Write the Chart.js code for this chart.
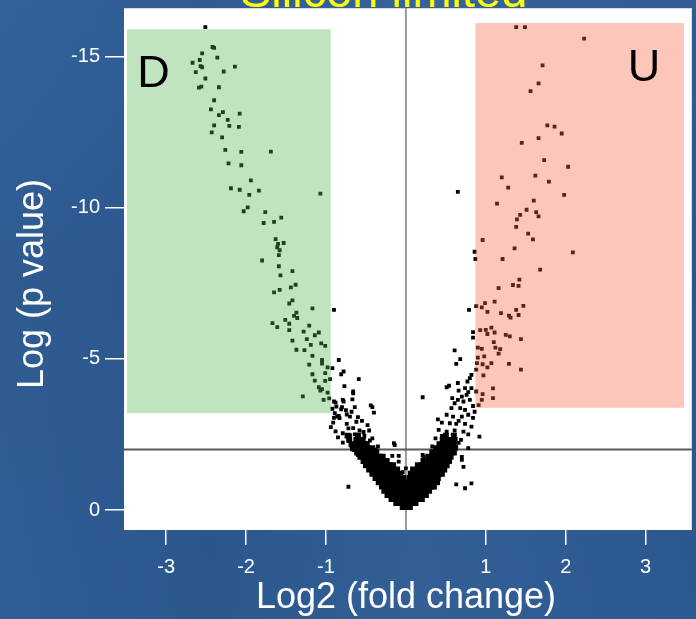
<!DOCTYPE html>
<html>
<head>
<meta charset="utf-8">
<script src="https://cdn.jsdelivr.net/npm/chart.js@4.4.1/dist/chart.umd.min.js"></script>
<style>
  html, body { margin: 0; padding: 0; }
  body {
    width: 696px; height: 619px; overflow: hidden;
    background:
      linear-gradient(90deg, rgba(255,255,255,0.02) 0%, rgba(0,0,0,0.03) 30%, rgba(255,255,255,0.03) 60%, rgba(0,0,0,0.02) 100%),
      linear-gradient(180deg, #2f5f9a 0%, #2b5890 45%, #2c5a93 100%);
  }
  #wrap { position: absolute; left: 0; top: 0; width: 696px; height: 619px; }
</style>
</head>
<body>
<div id="wrap"><canvas id="grafico" width="696" height="619"></canvas></div>
<script>
const titulo = 'Silicon limited';
const xTitulo = 'Log2 (fold change)';
const yTitulo = 'Log (p value)';
const xTicks = [-3, -2, -1, 1, 2, 3];
const yTicks = [-15, -10, -5, 0];
const limiteP = -2;
const limiteFC = 0;

// caixas: [x1, x2, y1, y2]
const caixaD = [-3.49, -0.94, -15.9, -3.2];
const caixaU = [0.87, 3.48, -16.1, -3.38];
const rotulos = ['D', 'U'];
const rotuloPos = [[-3.16, -14.39], [2.98, -14.6]];

const pontosD = [[-2.51,-15.97],[-2.42,-15.31],[-2.40,-15.28],[-2.55,-15.10],[-2.36,-14.96],[-2.58,-14.88],[-2.67,-14.79],[-2.57,-14.68],[-2.55,-14.64],[-2.14,-14.66],[-2.28,-14.50],[-2.63,-14.48],[-2.51,-14.27],[-2.59,-13.97],[-2.56,-14.00],[-2.34,-13.98],[-2.40,-13.55],[-2.44,-13.25],[-2.29,-13.16],[-2.34,-13.06],[-2.08,-13.11],[-2.23,-12.90],[-2.40,-12.72],[-2.21,-12.70],[-2.09,-12.67],[-2.43,-12.49],[-2.30,-12.32],[-2.26,-11.91],[-2.06,-11.84],[-1.69,-11.85],[-2.22,-11.46],[-2.06,-11.40],[-1.94,-10.90],[-2.19,-10.64],[-2.08,-10.59],[-1.84,-10.56],[-1.96,-10.42],[-1.07,-10.46],[-1.98,-10.01],[-2.03,-9.88],[-1.76,-9.85],[-1.56,-9.67],[-1.65,-9.53],[-1.78,-9.49],[-1.63,-8.96],[-1.60,-8.80],[-1.53,-8.83],[-1.61,-8.69],[-1.58,-8.59],[-1.59,-8.43],[-1.80,-8.25],[-1.59,-8.06],[-1.42,-7.90],[-1.57,-7.76],[-1.38,-7.45],[-1.44,-7.36],[-1.58,-7.28],[-1.65,-7.20],[-1.42,-6.93],[-1.46,-6.83],[-1.17,-6.67],[-0.90,-6.62],[-1.37,-6.53],[-1.40,-6.42],[-1.36,-6.35],[-1.51,-6.29],[-1.67,-6.18],[-1.46,-6.16],[-1.61,-6.05],[-1.21,-6.10],[-1.46,-5.95],[-1.28,-5.90],[-1.09,-5.87],[-1.14,-5.78],[-1.24,-5.65],[-1.42,-5.60],[-1.06,-5.51],[-1.19,-5.46],[-1.01,-5.43],[-1.37,-5.30],[-1.27,-5.29],[-1.17,-5.10],[-1.05,-4.96],[-0.84,-4.96],[-1.21,-4.81],[-1.05,-4.84],[-0.98,-4.72],[-0.92,-4.69],[-0.78,-4.58],[-0.81,-4.49],[-1.17,-4.49],[-1.01,-4.53],[-1.14,-4.28],[-1.01,-4.27],[-0.95,-4.33],[-0.77,-4.10],[-1.09,-4.06],[-1.05,-4.00],[-1.07,-3.95],[-0.98,-3.88],[-1.29,-3.76],[-1.03,-3.64],[-0.96,-3.69],[-0.90,-3.59],[-0.78,-3.59],[-0.87,-3.42],[-0.81,-3.33],[-0.89,-3.20],[-0.84,-3.11],[-0.74,-3.16]];

const bracoD = [[-0.59,-4.33],[-0.66,-3.92],[-0.67,-3.66],[-0.79,-3.64],[-0.64,-3.40],[-0.42,-3.40],[-0.40,-3.22],[-0.86,-3.09],[-0.83,-3.04],[-0.91,-2.89],[-0.70,-3.09],[-0.60,-3.07],[-0.74,-2.85],[-0.48,-2.81],[-0.94,-2.74],[-0.66,-2.71],[-0.58,-2.63],[-0.46,-2.63],[-0.79,-2.54],[-0.70,-2.48],[-0.52,-2.45],[-0.42,-2.37],[-0.79,-2.23],[-0.62,-2.26],[-0.50,-2.21],[-0.68,-2.10],[-0.56,-2.04],[-0.35,-2.10],[-0.14,-2.15],[-0.09,-1.79],[-0.46,-1.88],[-0.60,-1.82],[-0.40,-1.76],[-0.72,-0.77],[-0.15,-2.21],[-0.09,-1.60],[-0.17,-1.79],[-0.44,-3.46],[-0.66,-3.86],[-0.85,-2.40],[-0.88,-2.60],[-0.88,-3.55],[-0.75,-3.30],[-0.68,-3.25],[-0.55,-2.95],[-0.62,-2.92],[-0.72,-2.70],[-0.53,-2.58],[-0.64,-2.50],[-0.45,-2.30],[-0.58,-2.30],[-0.71,-2.30],[-0.38,-2.00],[-0.52,-1.95],[-0.65,-1.98],[-0.44,-2.02],[-0.80,-3.40],[-0.92,-3.35],[-0.90,-3.05]];

const pontosU = [[1.38,-15.97],[1.49,-15.97],[2.23,-15.59],[1.71,-14.70],[1.66,-14.11],[1.56,-13.85],[1.77,-12.72],[1.86,-12.68],[1.95,-12.45],[1.66,-12.30],[1.45,-12.14],[1.73,-11.57],[2.03,-11.35],[1.20,-11.00],[1.62,-11.06],[1.79,-10.86],[1.28,-10.66],[0.65,-10.52],[1.98,-10.42],[1.14,-10.13],[1.60,-10.23],[1.51,-9.93],[1.63,-9.85],[1.66,-9.71],[1.43,-9.76],[1.39,-9.61],[1.38,-9.36],[1.53,-9.14],[1.59,-8.95],[0.96,-8.93],[1.36,-8.65],[2.09,-8.52],[0.86,-8.54],[0.87,-8.30],[1.21,-8.30],[1.68,-7.95],[1.42,-7.62],[1.34,-7.44],[1.41,-7.41],[1.16,-7.34],[1.11,-6.89],[0.99,-6.84],[0.88,-6.74],[1.47,-6.75],[0.95,-6.70],[0.79,-6.62],[1.02,-6.55],[1.19,-6.51],[1.38,-6.62],[1.41,-6.45],[1.29,-6.43],[1.31,-6.36],[0.84,-5.88],[0.84,-5.70],[0.93,-5.95],[1.00,-5.96],[1.07,-6.03],[1.11,-5.87],[1.02,-5.82],[1.25,-5.79],[1.30,-5.74],[1.44,-5.65],[1.10,-5.55],[0.90,-5.37],[0.95,-5.33],[1.12,-5.37],[1.18,-5.32],[1.16,-5.17],[0.61,-5.28],[0.90,-5.04],[0.98,-5.08],[0.68,-4.99],[0.89,-4.86],[0.96,-4.82],[1.02,-4.72],[1.07,-4.86],[1.29,-4.83],[1.44,-4.64],[0.63,-4.83],[0.88,-4.64],[0.97,-4.45],[0.82,-4.47],[0.80,-4.36],[1.09,-4.02],[0.96,-3.83],[1.09,-3.70],[0.95,-3.64],[0.88,-3.92],[0.91,-3.47]];

const bracoU = [[0.21,-3.73],[0.40,-3.00],[0.51,-4.06],[0.54,-4.11],[0.65,-4.20],[0.74,-4.03],[0.77,-4.25],[0.82,-4.03],[0.76,-3.81],[0.70,-3.75],[0.65,-3.64],[0.61,-3.53],[0.72,-3.59],[0.80,-3.64],[0.57,-3.37],[0.68,-3.37],[0.74,-3.31],[0.84,-3.44],[0.51,-3.15],[0.59,-3.09],[0.70,-3.09],[0.78,-3.15],[0.45,-2.89],[0.55,-2.87],[0.63,-2.85],[0.74,-2.85],[0.41,-2.65],[0.51,-2.59],[0.61,-2.63],[0.72,-2.59],[0.82,-2.76],[0.37,-2.37],[0.49,-2.32],[0.59,-2.34],[0.69,-2.32],[0.33,-2.10],[0.41,-2.04],[0.53,-2.10],[0.63,-2.08],[0.21,-1.82],[0.37,-1.85],[0.49,-1.82],[0.70,-1.76],[0.92,-2.43],[0.63,-0.85],[0.74,-0.72],[0.82,-0.88],[0.70,-1.66],[0.72,-1.43],[0.22,-1.76],[0.66,-3.95],[0.58,-3.70],[0.78,-3.90],[0.86,-3.25],[0.66,-2.95],[0.78,-2.50],[0.56,-2.20],[0.45,-2.45],[0.66,-2.22],[0.78,-2.05],[0.84,-3.05],[0.00,-1.38],[0.11,-1.19],[-0.04,-1.25]];

// massa densa junto ao zero, lida por linhas
const nucleoY = [-0.10, -0.23, -0.36, -0.50, -0.64, -0.78, -0.92, -1.06, -1.20, -1.34, -1.48, -1.62, -1.76, -1.90, -2.04, -2.18, -2.32, -2.46];
const nucleoX = [
  [-0.04, 0.01, 0.05],
  [-0.12, -0.07, -0.02, 0.03, 0.08, 0.12],
  [-0.18, -0.13, -0.08, -0.03, 0.02, 0.07, 0.12, 0.16, 0.20],
  [-0.23, -0.18, -0.12, -0.07, -0.02, 0.04, 0.09, 0.14, 0.20, 0.25],
  [-0.27, -0.22, -0.16, -0.10, -0.05, 0.01, 0.07, 0.12, 0.18, 0.24, 0.29],
  [-0.30, -0.25, -0.19, -0.13, -0.08, -0.02, 0.04, 0.10, 0.16, 0.21, 0.27, 0.32, 0.35],
  [-0.34, -0.28, -0.22, -0.17, -0.11, -0.05, 0.01, 0.07, 0.13, 0.18, 0.24, 0.29, 0.34, 0.39],
  [-0.38, -0.32, -0.26, -0.21, -0.15, -0.09, -0.03, 0.05, 0.11, 0.17, 0.23, 0.29, 0.35, 0.40],
  [-0.42, -0.36, -0.30, -0.24, -0.18, -0.12, -0.07, 0.06, 0.12, 0.18, 0.24, 0.30, 0.36, 0.41, 0.45],
  [-0.46, -0.40, -0.34, -0.28, -0.22, -0.16, -0.11, 0.09, 0.15, 0.21, 0.27, 0.33, 0.38, 0.43, 0.48],
  [-0.50, -0.44, -0.38, -0.32, -0.26, -0.20, -0.16, 0.15, 0.21, 0.27, 0.33, 0.38, 0.43, 0.48, 0.51],
  [-0.53, -0.47, -0.41, -0.35, -0.29, -0.24, 0.22, 0.28, 0.34, 0.40, 0.45, 0.50, 0.54],
  [-0.57, -0.51, -0.45, -0.39, -0.33, -0.29, 0.28, 0.34, 0.40, 0.46, 0.51, 0.56],
  [-0.61, -0.55, -0.49, -0.43, -0.37, 0.33, 0.39, 0.45, 0.51, 0.56, 0.60],
  [-0.66, -0.60, -0.54, -0.48, -0.42, 0.38, 0.44, 0.50, 0.56, 0.61],
  [-0.68, -0.62, -0.56, -0.49, 0.42, 0.48, 0.54, 0.60],
  [-0.71, -0.62, -0.54, 0.46, 0.54, 0.61],
  [-0.73, -0.60, 0.50, 0.60]
];

function paraPontos(lista){
    return lista.map(p => ({x: p[0], y: p[1]}));
}
function nucleo(){
    const lista = [];
    for (let i = 0; i < nucleoY.length; i++) {
        for (let j = 0; j < nucleoX[i].length; j++) {
            lista.push({x: nucleoX[i][j], y: nucleoY[i]});
        }
    }
    return lista;
}

const fonte = "'Liberation Sans', Arial, sans-serif";

const fundoBranco = {
    id: 'fundoBranco',
    beforeDraw(chart){
        const {ctx, chartArea: a} = chart;
        ctx.save();
        ctx.fillStyle = '#ffffff';
        ctx.fillRect(a.left, a.top, a.right - a.left, a.bottom - a.top);
        ctx.strokeStyle = '#d8d8d8';
        ctx.lineWidth = 1;
        ctx.beginPath();
        ctx.moveTo(a.left, a.top + 0.5);
        ctx.lineTo(a.right, a.top + 0.5);
        ctx.stroke();
        ctx.restore();
    },
    beforeDatasetsDraw(chart){
        const {ctx, chartArea: a, scales} = chart;
        const xp = scales.x.getPixelForValue(limiteFC);
        const yp = scales.y.getPixelForValue(limiteP);
        ctx.save();
        ctx.lineWidth = 2;
        ctx.strokeStyle = '#9a9a9a';
        ctx.beginPath();
        ctx.moveTo(xp, a.top);
        ctx.lineTo(xp, a.bottom);
        ctx.stroke();
        ctx.strokeStyle = '#5a5a5a';
        ctx.beginPath();
        ctx.moveTo(a.left, yp);
        ctx.lineTo(a.right, yp);
        ctx.stroke();
        ctx.restore();
    },
    afterDatasetsDraw(chart){
        const {ctx, scales} = chart;
        const caixa = (c, cor) => {
            const x1 = scales.x.getPixelForValue(c[0]);
            const x2 = scales.x.getPixelForValue(c[1]);
            const y1 = scales.y.getPixelForValue(c[2]);
            const y2 = scales.y.getPixelForValue(c[3]);
            ctx.fillStyle = cor;
            ctx.fillRect(x1, y1, x2 - x1, y2 - y1);
        };
        ctx.save();
        caixa(caixaD, 'rgba(82,181,82,0.365)');
        caixa(caixaU, 'rgba(247,99,66,0.365)');
        ctx.fillStyle = '#000000';
        ctx.font = '45px ' + fonte;
        ctx.textAlign = 'center';
        ctx.textBaseline = 'middle';
        for (let i = 0; i < rotulos.length; i++) {
            ctx.fillText(rotulos[i], scales.x.getPixelForValue(rotuloPos[i][0]), scales.y.getPixelForValue(rotuloPos[i][1]));
        }
        ctx.restore();
    },
    afterDraw(chart){
        const ctx = chart.ctx;
        ctx.save();
        ctx.fillStyle = '#ffff00';
        ctx.font = '47px ' + fonte;
        ctx.textAlign = 'left';
        ctx.textBaseline = 'alphabetic';
        ctx.fillText(titulo, 240, 7);
        // titulos dos eixos
        ctx.fillStyle = '#ffffff';
        ctx.font = '36px ' + fonte;
        ctx.textAlign = 'center';
        ctx.textBaseline = 'middle';
        ctx.fillText(xTitulo, 406, 598);
        ctx.translate(33, 284);
        ctx.rotate(-Math.PI / 2);
        ctx.fillText(yTitulo, 0, 0);
        ctx.restore();
    }
};

const estiloPonto = {
    backgroundColor: '#000000',
    borderWidth: 0,
    pointStyle: 'rect',
    pointRadius: 2.7
};

new Chart(document.getElementById('grafico'), {
    type: 'scatter',
    data: {
        datasets: [
            Object.assign({data: paraPontos(pontosD)}, estiloPonto),
            Object.assign({data: paraPontos(bracoD)}, estiloPonto),
            Object.assign({data: paraPontos(pontosU)}, estiloPonto),
            Object.assign({data: paraPontos(bracoU)}, estiloPonto),
            Object.assign({}, estiloPonto, {data: nucleo(), pointRadius: 4.2})
        ]
    },
    options: {
        responsive: false,
        animation: false,
        devicePixelRatio: 1,
        layout: {padding: {top: 8, right: 0, left: 0, bottom: 0}},
        plugins: {legend: {display: false}, tooltip: {enabled: false}},
        scales: {
            x: {
                type: 'linear',
                min: -3.528,
                max: 3.578,
                afterBuildTicks: s => { s.ticks = xTicks.map(v => ({value: v})); },
                afterFit: s => { s.height = 89; s.paddingLeft = 0; s.paddingRight = 0; },
                border: {display: false},
                grid: {drawOnChartArea: false, drawTicks: true, tickLength: 15, color: '#ffffff', lineWidth: 1.5},
                ticks: {color: '#ffffff', font: {size: 20, family: fonte}, padding: 10, maxRotation: 0},
                title: {display: false}
            },
            y: {
                type: 'linear',
                min: -16.6,
                max: 0.66,
                reverse: true,
                afterBuildTicks: s => { s.ticks = yTicks.map(v => ({value: v})); },
                afterFit: s => { s.width = 124; s.paddingTop = 0; s.paddingBottom = 0; },
                border: {display: false},
                grid: {drawOnChartArea: false, drawTicks: true, tickLength: 19, color: '#ffffff', lineWidth: 1.5},
                ticks: {color: '#ffffff', font: {size: 20, family: fonte}, padding: 5},
                title: {display: false}
            }
        }
    },
    plugins: [fundoBranco]
});
</script>
</body>
</html>
